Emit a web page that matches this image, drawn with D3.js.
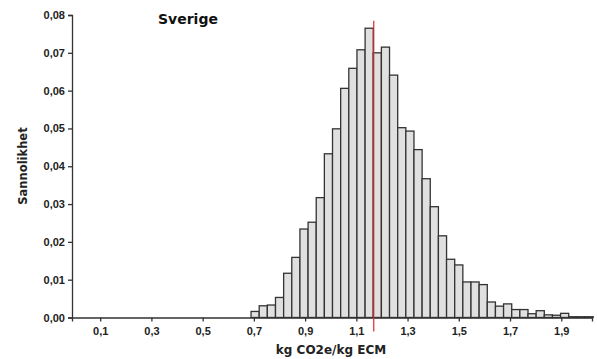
<!DOCTYPE html>
<html>
    <head>
        <style>
            body {
                margin: 0;
                background: #fff;
                font-family: "DejaVu Sans", Verdana, sans-serif;
            }
            .axis text {
                font-size: 11px;
                font-weight: bold;
                fill: #222;
            }
            .axis path, .axis line {
                stroke: #333;
                stroke-width: 1.3px;
            }
            .bar {
                fill: #e0e0e0;
                stroke: #333;
                stroke-width: 1.3px;
            }
        </style>
    </head>
    <body>
        <script src="https://d3js.org/d3.v7.min.js"></script>
        <script>
            // histogram bins: first left edge and width (kg CO2e/kg ECM)
            const binStart = 0.689;
            const binWidth = 0.0318;
            const probabilities = [
                0.0016, 0.0031, 0.0033, 0.0053, 0.0117, 0.0159, 0.0234, 0.0252,
                0.0317, 0.0433, 0.0499, 0.0606, 0.0659, 0.0708, 0.0765, 0.0700,
                0.0715, 0.0641, 0.0502, 0.0493, 0.0444, 0.0367, 0.0293, 0.0216,
                0.0154, 0.0139, 0.0094, 0.0094, 0.0087, 0.0041, 0.0030, 0.0036,
                0.0021, 0.0021, 0.0010, 0.0018, 0.0007, 0.0006, 0.0011, 0.0002,
                0.0002, 0.0002
            ];
            const meanValue = 1.168;
            const xTicks = [0.1, 0.3, 0.5, 0.7, 0.9, 1.1, 1.3, 1.5, 1.7, 1.9];
            const yTicks = [0, 0.01, 0.02, 0.03, 0.04, 0.05, 0.06, 0.07, 0.08];

            const width = 597, height = 359;
            const comma = f => v => d3.format(f)(v).replace('.', ',');

            const x = d3.scaleLinear().domain([-0.01, 2.02]).range([72, 592]);
            const y = d3.scaleLinear().domain([0, 0.08]).range([317.5, 15]);

            const svg = d3.select('body').append('svg')
                .attr('width', width)
                .attr('height', height);

            const bins = probabilities.map((p, i) => ({
                x0: binStart + i * binWidth,
                x1: binStart + (i + 1) * binWidth,
                p: p
            }));

            svg.selectAll('rect.bar')
                .data(bins)
                .enter().append('rect')
                .attr('class', 'bar')
                .attr('x', d => x(d.x0))
                .attr('width', d => x(d.x1) - x(d.x0))
                .attr('y', d => y(d.p))
                .attr('height', d => y(0) - y(d.p));

            svg.append('g')
                .attr('class', 'axis')
                .attr('transform', `translate(0,${y(0)})`)
                .call(d3.axisBottom(x).tickValues(xTicks).tickFormat(comma('.1f'))
                    .tickSizeOuter(0).tickSize(4).tickPadding(6));

            svg.append('g')
                .attr('class', 'axis')
                .attr('transform', `translate(${x(-0.01)},0)`)
                .call(d3.axisLeft(y).tickValues(yTicks).tickFormat(comma('.2f'))
                    .tickSizeOuter(0).tickSize(4).tickPadding(3));

            // mean marker
            svg.append('line')
                .attr('x1', x(meanValue)).attr('x2', x(meanValue))
                .attr('y1', y(0.0785)).attr('y2', y(0) + 14)
                .attr('stroke', '#dd2a2a')
                .attr('stroke-width', 1.2);

            svg.append('text')
                .attr('x', 158).attr('y', 24)
                .style('font-size', '14px')
                .style('font-weight', 'bold')
                .style('fill', '#111')
                .text('Sverige');

            svg.append('text')
                .attr('transform', 'translate(27,166) rotate(-90)')
                .attr('text-anchor', 'middle')
                .style('font-size', '11.5px')
                .style('font-weight', 'bold')
                .style('fill', '#222')
                .text('Sannolikhet');

            svg.append('text')
                .attr('x', 331).attr('y', 354)
                .attr('text-anchor', 'middle')
                .style('font-size', '12px')
                .style('font-weight', 'bold')
                .style('fill', '#222')
                .text('kg CO2e/kg ECM');
        </script>
    </body>
</html>
